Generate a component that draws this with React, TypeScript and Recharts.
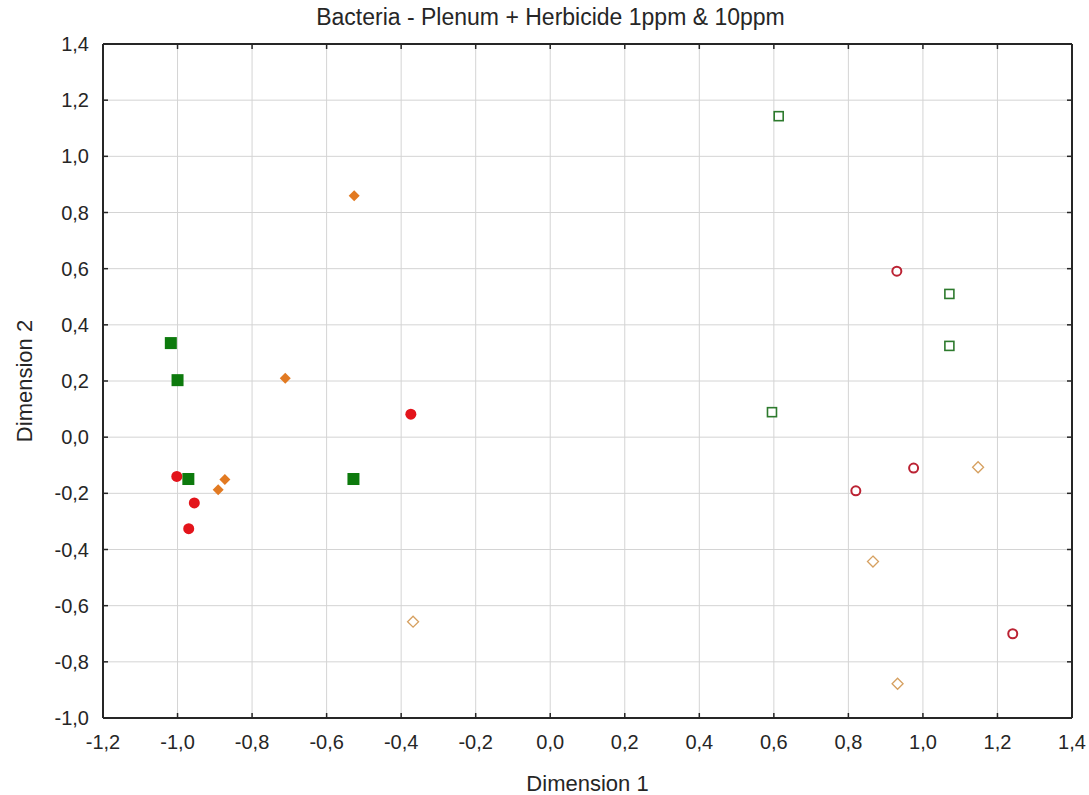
import { ScatterChart, Scatter, XAxis, YAxis, CartesianGrid } from "recharts";

// Point coordinates (Dimension 1, Dimension 2)
const greenFilled = [
  { x: -1.018, y: 0.335 },
  { x: -1.0, y: 0.203 },
  { x: -0.971, y: -0.149 },
  { x: -0.528, y: -0.149 },
];
const redFilled = [
  { x: -1.002, y: -0.14 },
  { x: -0.955, y: -0.234 },
  { x: -0.97, y: -0.326 },
  { x: -0.374, y: 0.082 },
];
const orangeFilled = [
  { x: -0.711, y: 0.21 },
  { x: -0.873, y: -0.151 },
  { x: -0.891, y: -0.187 },
  { x: -0.526, y: 0.86 },
];
const greenOpen = [
  { x: 0.613, y: 1.143 },
  { x: 1.071, y: 0.51 },
  { x: 1.071, y: 0.325 },
  { x: 0.595, y: 0.089 },
];
const redOpen = [
  { x: 0.93, y: 0.591 },
  { x: 0.975, y: -0.11 },
  { x: 0.82, y: -0.191 },
  { x: 1.241, y: -0.7 },
];
const orangeOpen = [
  { x: 1.148, y: -0.107 },
  { x: 0.866, y: -0.443 },
  { x: 0.932, y: -0.878 },
  { x: -0.368, y: -0.657 },
];

const xTicks = [-1.2, -1.0, -0.8, -0.6, -0.4, -0.2, 0.0, 0.2, 0.4, 0.6, 0.8, 1.0, 1.2, 1.4];
const yTicks = [-1.0, -0.8, -0.6, -0.4, -0.2, 0.0, 0.2, 0.4, 0.6, 0.8, 1.0, 1.2, 1.4];

const FONT = '"Liberation Sans", Arial, sans-serif';
const INK = "#262626";
const fmt = (v: number) => v.toFixed(1).replace(".", ",");

const FilledSquare = ({ cx, cy }: any) => (
  <rect x={cx - 6} y={cy - 6} width={12} height={12} fill="#0d7a0d" />
);
const FilledCircle = ({ cx, cy }: any) => <circle cx={cx} cy={cy} r={5.5} fill="#e3141b" />;
const FilledDiamond = ({ cx, cy }: any) => (
  <polygon points={`${cx},${cy - 5.5} ${cx + 5.5},${cy} ${cx},${cy + 5.5} ${cx - 5.5},${cy}`} fill="#e27a22" />
);
const OpenSquare = ({ cx, cy }: any) => (
  <rect x={cx - 4.5} y={cy - 4.5} width={9} height={9} fill="#fff" stroke="#2d7a2d" strokeWidth={1.6} />
);
const OpenCircle = ({ cx, cy }: any) => (
  <circle cx={cx} cy={cy} r={4.5} fill="#fff" stroke="#bb2233" strokeWidth={2} />
);
const OpenDiamond = ({ cx, cy }: any) => (
  <polygon
    points={`${cx},${cy - 5.5} ${cx + 5.5},${cy} ${cx},${cy + 5.5} ${cx - 5.5},${cy}`}
    fill="#fff"
    stroke="#d6a060"
    strokeWidth={1.3}
  />
);

const frame = { stroke: INK, strokeWidth: 2 };
const tickMark = { stroke: INK, strokeWidth: 1.5 };
const noLabel = () => <g />;

export default function App() {
  return (
    <div style={{ width: 1089, height: 795, position: "relative", background: "#fff" }}>
      <style>{`body{margin:0}`}</style>
      <div
        style={{
          position: "absolute",
          top: 4,
          left: 6,
          width: 1089,
          textAlign: "center",
          fontFamily: FONT,
          fontSize: 23,
          color: INK,
        }}
      >
        Bacteria - Plenum + Herbicide 1ppm &amp; 10ppm
      </div>
      <ScatterChart width={1089} height={795} margin={{ top: 44, right: 17, bottom: 37, left: 43 }}>
        <CartesianGrid stroke="#d4d4d4" strokeWidth={1} />
        {/* labelled axes */}
        <XAxis
          type="number"
          dataKey="x"
          domain={[-1.2, 1.4]}
          ticks={xTicks}
          tickFormatter={fmt}
          interval={0}
          height={40}
          allowDataOverflow
          axisLine={frame}
          tickLine={false}
          tickSize={6}
          tickMargin={11}
          tick={{ fill: INK, fontSize: 20, fontFamily: FONT }}
          label={{ value: "Dimension 1", position: "bottom", offset: 17, fill: INK, fontSize: 22, fontFamily: FONT }}
        />
        <YAxis
          type="number"
          dataKey="y"
          domain={[-1.0, 1.4]}
          ticks={yTicks}
          tickFormatter={fmt}
          interval={0}
          width={60}
          allowDataOverflow
          axisLine={frame}
          tickLine={false}
          tickSize={6}
          tickMargin={8}
          tick={{ fill: INK, fontSize: 20, fontFamily: FONT }}
          label={{
            value: "Dimension 2",
            angle: -90,
            position: "insideLeft",
            offset: -19,
            style: { textAnchor: "middle" },
            fill: INK,
            fontSize: 22,
            fontFamily: FONT,
          }}
        />
        {/* inward tick marks on all four sides of the frame */}
        <XAxis
          xAxisId="bm"
          orientation="bottom"
          mirror
          type="number"
          dataKey="x"
          domain={[-1.2, 1.4]}
          ticks={xTicks}
          interval={0}
          height={1}
          allowDataOverflow
          axisLine={frame}
          tickLine={tickMark}
          tickSize={5}
          tick={noLabel}
        />
        <XAxis
          xAxisId="tm"
          orientation="top"
          mirror
          type="number"
          dataKey="x"
          domain={[-1.2, 1.4]}
          ticks={xTicks}
          interval={0}
          height={1}
          allowDataOverflow
          axisLine={frame}
          tickLine={tickMark}
          tickSize={5}
          tick={noLabel}
        />
        <YAxis
          yAxisId="lm"
          orientation="left"
          mirror
          type="number"
          dataKey="y"
          domain={[-1.0, 1.4]}
          ticks={yTicks}
          interval={0}
          width={1}
          allowDataOverflow
          axisLine={frame}
          tickLine={tickMark}
          tickSize={5}
          tick={noLabel}
        />
        <YAxis
          yAxisId="rm"
          orientation="right"
          mirror
          type="number"
          dataKey="y"
          domain={[-1.0, 1.4]}
          ticks={yTicks}
          interval={0}
          width={1}
          allowDataOverflow
          axisLine={frame}
          tickLine={tickMark}
          tickSize={5}
          tick={noLabel}
        />
        <Scatter data={greenFilled} shape={FilledSquare} isAnimationActive={false} />
        <Scatter data={redFilled} shape={FilledCircle} isAnimationActive={false} />
        <Scatter data={orangeFilled} shape={FilledDiamond} isAnimationActive={false} />
        <Scatter data={greenOpen} shape={OpenSquare} isAnimationActive={false} />
        <Scatter data={redOpen} shape={OpenCircle} isAnimationActive={false} />
        <Scatter data={orangeOpen} shape={OpenDiamond} isAnimationActive={false} />
      </ScatterChart>
    </div>
  );
}
